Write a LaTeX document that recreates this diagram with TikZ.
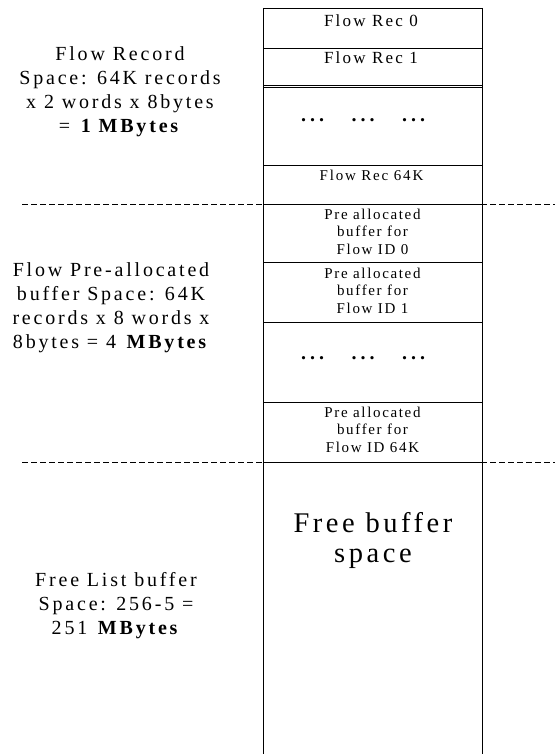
\documentclass[tikz,border=0pt]{standalone}
\usepackage{fontspec}
\setmainfont{Liberation Serif}
\newfontfamily\sidefont[LetterSpace=14]{Liberation Serif}
\newfontfamily\recfont[LetterSpace=13]{Liberation Serif}
\newfontfamily\smallrecfont[LetterSpace=12]{Liberation Serif}
\newfontfamily\prefont[LetterSpace=11]{Liberation Serif}
\newfontfamily\bigfont[LetterSpace=12.5]{Liberation Serif}
\newcommand\dotgroup{.\kern4pt.\kern4pt.}
\newcommand\dotrow{\dotgroup\kern27.5pt\dotgroup\kern27.5pt\dotgroup}
\tikzset{
  cell/.style={draw, line width=0.8pt, minimum width=219pt, inner sep=0pt, outer sep=0pt, anchor=north west},
  opencell/.style={minimum width=219pt, inner sep=0pt, outer sep=0pt, anchor=north west},
  txt/.style={inner sep=0pt, outer sep=0pt, anchor=base, align=center},
  sep/.style={dash pattern=on 6pt off 3pt, line width=0.7pt},
  side/.style={txt, font=\sidefont\fontsize{20}{24}\selectfont},
  rec/.style={txt, font=\recfont\fontsize{17}{20}\selectfont},
  srec/.style={txt, font=\smallrecfont\fontsize{15}{18}\selectfont},
  pre/.style={txt, font=\prefont\fontsize{15}{17.5}\selectfont},
  big/.style={txt, font=\bigfont\fontsize{28.5}{30}\selectfont},
  dots/.style={txt, font=\bfseries\fontsize{20}{22}\selectfont}
}
\begin{document}
\begin{tikzpicture}[x=1pt,y=-1pt]
\useasboundingbox[fill=white] (0,0) rectangle (555,754);
% cells
\node[cell, minimum height=40pt] (r0) at (263,8) {};
\node[cell, minimum height=37pt] (r1) at (263,48) {};
\node[cell, minimum height=78pt] (d1) at (263,87) {};
\node[cell, minimum height=39pt] (r64) at (263,165) {};
\node[cell, minimum height=58pt] (p0) at (263,204) {};
\node[cell, minimum height=60pt] (p1) at (263,262) {};
\node[cell, minimum height=80pt] (d2) at (263,322) {};
\node[cell, minimum height=60pt] (p64) at (263,402) {};
\node[opencell, minimum height=292pt] (free) at (263,462) {};
\draw[line width=0.8pt] (free.south west) -- (free.north west) -- (free.north east) -- (free.south east);
\draw[line width=0.9pt] (r0.north west) -- (free.south west);
\draw[line width=0.9pt] (r0.north east) -- (free.south east);
% separators
\coordinate (s1l) at (22,204);
\coordinate (s1r) at (555,204);
\coordinate (s2l) at (22,462);
\coordinate (s2r) at (555,462);
\draw[sep] (s1l) -- (s1r);
\draw[sep] (s2l) -- (s2r);
% cell texts
\node[rec] (t0) at (371,27) {Flow Rec 0};
\node[rec] (t1) at (371,64) {Flow Rec 1};
\node[dots] (td1) at (363,122) {\dotrow};
\node[srec] (t64) at (371.5,180) {Flow Rec 64K};
\node[pre] (tp0) at (372.5,254) {Pre allocated\\buffer for\\Flow ID 0};
\node[pre] (tp1) at (372.5,313) {Pre allocated\\buffer for\\Flow ID 1};
\node[dots] (td2) at (363,359) {\dotrow};
\node[pre] (tp64) at (372.5,452) {Pre allocated\\buffer for\\Flow ID 64K};
\node[big] (tfree) at (373,562) {Free buffer\\space};
% side labels
\node[side] (l1) at (120,133) {Flow Record\\Space: 64K records\\x 2 words x 8bytes\\= \textbf{1 MBytes}};
\node[side] (l2) at (111,348) {Flow Pre-allocated\\buffer Space: 64K\\records x 8 words x\\8bytes = 4 \textbf{MBytes}};
\node[side] (l3) at (116,634) {Free List buffer\\Space: 256-5 =\\251 \textbf{MBytes}};
\end{tikzpicture}
\end{document}
